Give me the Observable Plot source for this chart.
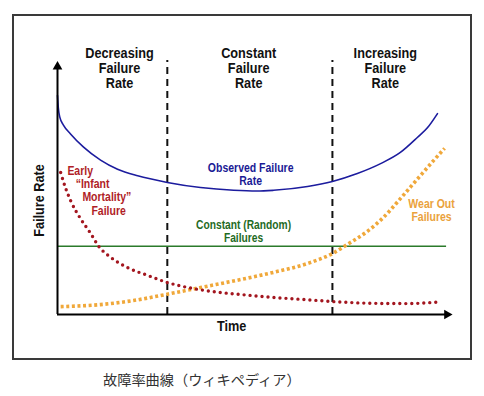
<!DOCTYPE html>
<html>
<head>
<meta charset="utf-8">
<script src="https://cdn.jsdelivr.net/npm/d3@7"></script>
<script src="https://cdn.jsdelivr.net/npm/@observablehq/plot@0.6"></script>
<style>
  html, body { margin: 0; padding: 0; background: #fff; }
  #wrap { position: relative; width: 484px; height: 396px; overflow: hidden; }
  #box { position: absolute; left: 12px; top: 14px; width: 456px; height: 342px; border: 2px solid #3a3a3a; }
  #chart { position: absolute; left: 0; top: 0; }
  #caption { position: absolute; left: 103px; top: 369px; font-family: "Noto Sans CJK JP", sans-serif; font-size: 14.2px; color: #333; white-space: nowrap; }
</style>
</head>
<body>
<div id="wrap">
  <div id="box"></div>
  <div id="chart"></div>
  <div id="caption">故障率曲線（ウィキペディア）</div>
</div>
<script>
// Time axis 0..100, failure-rate axis 0..100 (arbitrary units)
const observedT    = [0, 0.2, 0.6, 1.5, 3.3, 6.6, 10.9, 15.2, 20.3, 27.8, 36.2, 44.6, 50.5, 54.7, 63.3, 69.6, 75.9, 81.8, 86.8, 91.1, 93.7, 96.2];
const observedRate = [86.2, 81.5, 77.6, 74.6, 71.1, 65.9, 60.8, 57.2, 54.6, 52.0, 50.0, 48.9, 48.6, 48.9, 50.4, 52.4, 55.5, 59.4, 63.8, 69.7, 73.6, 79.1];

const earlyT    = [0.8, 2.0, 3.3, 5.8, 8.4, 10.4, 13.4, 17.7, 22.8, 27.8, 33.7, 40.5, 48.9, 54.7, 63.3, 69.6, 80.0, 88.6, 97.0];
const earlyRate = [55.9, 50.0, 44.9, 37.8, 31.9, 26.9, 22.6, 18.5, 15.4, 12.6, 10.4, 8.8, 7.5, 6.7, 5.8, 5.1, 4.4, 4.3, 5.0];

const wearT    = [0.8, 10.9, 19.2, 27.8, 36.2, 48.9, 54.7, 63.3, 69.6, 73.4, 78.5, 82.5, 86.8, 91.1, 95.2, 98.0];
const wearRate = [3.1, 3.9, 5.5, 8.0, 10.6, 14.6, 16.6, 20.1, 24.0, 27.6, 32.8, 38.2, 45.6, 53.3, 60.6, 65.4];

const constantRate = [26.9];
const constantEnd = 98.5;

const phaseBoundaries = [27.8, 69.6];
const phaseLabels = ["Decreasing\nFailure\nRate", "Constant\nFailure\nRate", "Increasing\nFailure\nRate"];
const phaseCenters = [15.7, 48.4, 83.0];

const earlyLabelLines = ["Early", "\u201CInfant", "Mortality\u201D", "Failure"];

const observed = observedT.map((t, i) => ({t, v: observedRate[i]}));
const early = earlyT.map((t, i) => ({t, v: earlyRate[i]}));
const wear = wearT.map((t, i) => ({t, v: wearRate[i]}));

const F = "'Liberation Sans', Arial, sans-serif";
const NARROW = 0.82;

const chart = Plot.plot({
  width: 484,
  height: 362,
  marginLeft: 57,
  marginRight: 32,
  marginTop: 60,
  marginBottom: 48,
  x: {domain: [0, 100], axis: null},
  y: {domain: [0, 100], axis: null},
  style: {fontFamily: F, background: "transparent", overflow: "visible"},
  marks: [
    // constant random failures
    Plot.ruleY(constantRate, {x1: 0, x2: constantEnd, stroke: "#2b7a2b", strokeWidth: 1.5}),
    // phase boundaries
    Plot.ruleX(phaseBoundaries, {y1: 0, y2: 100, stroke: "#111", strokeWidth: 2, strokeDasharray: "7,5"}),
    // wear-out (orange dotted, square dots)
    Plot.line(wear, {x: "t", y: "v", curve: "monotone-x", stroke: "#f0a83a", strokeWidth: 3.6, strokeDasharray: "3,2.6", strokeLinecap: "butt", strokeLinejoin: "miter"}),
    // early (red dotted, round dots)
    Plot.line(early, {x: "t", y: "v", curve: "monotone-x", stroke: "#a3161f", strokeWidth: 3.4, strokeDasharray: "0,6", strokeLinecap: "round"}),
    // observed
    Plot.line(observed, {x: "t", y: "v", curve: "monotone-x", stroke: "#1c1c9e", strokeWidth: 1.6}),
    // axes
    Plot.ruleX([0], {y1: 0, y2: 97, stroke: "#000", strokeWidth: 2}),
    Plot.ruleY([0], {x1: 0, x2: 98.4, stroke: "#000", strokeWidth: 2}),
    Plot.dot([0], {x: 0, y: 97.6, symbol: "triangle", r: 3.6, fill: "#000", stroke: null}),
    Plot.dot([0], {x: 98.6, y: 0, symbol: "triangle", r: 3.6, fill: "#000", stroke: null, rotate: 90}),
    // phase labels
    Plot.text(phaseLabels, {x: (d, i) => phaseCenters[i], y: 96.9, text: d => d, fontSize: 15.5, fontWeight: "bold", fill: "#111", lineHeight: 0.95, lineAnchor: "middle"}),
    // axis titles
    Plot.text(["Failure Rate"], {x: -4.6, y: 44.9, text: d => d, rotate: -90, fontSize: 15.5, fontWeight: "bold", fill: "#111"}),
    Plot.text(["Time"], {x: 44.1, y: -4.7, text: d => d, fontSize: 15.5, fontWeight: "bold", fill: "#111"}),
    // curve labels
    Plot.text(["Observed Failure\nRate"], {x: 48.9, y: 55.3, text: d => d, fontSize: 12.8, fontWeight: "bold", fill: "#1a1a95", lineHeight: 1.02, lineAnchor: "middle"}),
    Plot.text(["Constant (Random)\nFailures"], {x: 47.1, y: 32.7, text: d => d, fontSize: 12.5, fontWeight: "bold", fill: "#1f6b1f", lineHeight: 1.0, lineAnchor: "middle"}),
    Plot.text(["Wear Out\nFailures"], {x: 94.7, y: 41.1, text: d => d, fontSize: 12.8, fontWeight: "bold", fill: "#eaa23c", lineHeight: 1.04, lineAnchor: "middle"}),
    Plot.text(earlyLabelLines, {x: (d, i) => [2.5, 4.6, 6.3, 8.6][i], y: (d, i) => [56.7, 51.6, 46.3, 40.9][i], text: d => d, textAnchor: "start", fontSize: 12.8, fontWeight: "bold", fill: "#b01d27"})
  ]
});

// emulate a narrow (condensed) bold face by squeezing each text horizontally
chart.querySelectorAll("text").forEach(t => {
  const tr = t.getAttribute("transform");
  if (tr) {
    t.setAttribute("transform", tr + ` scale(${NARROW},1)`);
  } else {
    const x = +t.getAttribute("x") || 0, y = +t.getAttribute("y") || 0;
    t.setAttribute("transform", `translate(${x},${y}) scale(${NARROW},1)`);
    t.setAttribute("x", 0); t.setAttribute("y", 0);
    t.querySelectorAll("tspan").forEach(s => { if (s.hasAttribute("x")) s.setAttribute("x", 0); });
  }
});
document.getElementById("chart").appendChild(chart);
</script>
</body>
</html>
